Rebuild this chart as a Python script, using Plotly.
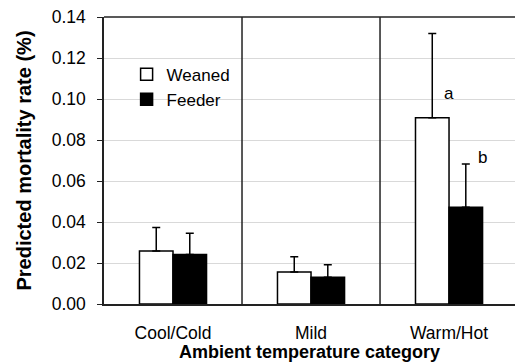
import plotly.graph_objects as go

categories = ["Cool/Cold", "Mild", "Warm/Hot"]
weaned = [0.0258, 0.0156, 0.0909]
weaned_err = [0.0115, 0.0075, 0.0411]
feeder = [0.0241, 0.0131, 0.0472]
feeder_err = [0.0104, 0.0061, 0.0211]
letters = ["a", "b"]
letter_y = [0.1025, 0.0717]

fig = go.Figure()
fig.add_trace(go.Bar(
    name="Weaned", x=categories, y=weaned,
    marker=dict(color="white", line=dict(color="black", width=1.5)),
    error_y=dict(type="data", array=weaned_err, arrayminus=[0, 0, 0],
                 color="black", thickness=1.5, width=4),
))
fig.add_trace(go.Bar(
    name="Feeder", x=categories, y=feeder,
    marker=dict(color="black", line=dict(color="black", width=1.5)),
    error_y=dict(type="data", array=feeder_err, arrayminus=[0, 0, 0],
                 color="black", thickness=1.5, width=4),
))

# category separators
for xv in [0.5, 1.5]:
    fig.add_shape(type="line", xref="x", yref="paper", x0=xv, x1=xv, y0=0, y1=1,
                  line=dict(color="#222222", width=1.5))
# top border
fig.add_shape(type="line", xref="paper", yref="paper", x0=0, x1=1, y0=1, y1=1,
              line=dict(color="#222222", width=1.5))

fig.add_annotation(x=2, y=letter_y[0], text=letters[0], xref="x", yref="y",
                   xshift=0, showarrow=False, font=dict(size=17, color="black"))
fig.add_annotation(x=2, y=letter_y[1], text=letters[1], xref="x", yref="y",
                   xshift=33, showarrow=False, font=dict(size=17, color="black"))

fig.update_layout(
    width=515, height=362,
    margin=dict(l=104, r=0, t=17, b=58),
    paper_bgcolor="white", plot_bgcolor="white",
    font=dict(family="Liberation Sans, Arial, sans-serif", size=17, color="black"),
    barmode="group", bargap=0.514, bargroupgap=0,
    showlegend=True,
    legend=dict(x=0.055, y=0.862, xanchor="left", yanchor="top",
                bgcolor="rgba(0,0,0,0)", font=dict(size=17),
                itemwidth=30, tracegroupgap=0),
    xaxis=dict(range=[-0.5, 2.478], showline=True, linecolor="#222222", linewidth=1.5,
               ticks="", showgrid=False, tickfont=dict(size=17.5),
               ticklabelstandoff=12,
               title=dict(text="<b>Ambient temperature category</b>", standoff=0,
                          font=dict(size=18))),
    yaxis=dict(range=[0, 0.14], dtick=0.02, tickformat=".2f",
               showline=True, linecolor="#222222", linewidth=1.5,
               ticks="outside", ticklen=5, tickcolor="#222222",
               tickfont=dict(size=17.5), ticklabelstandoff=8,
               showgrid=True, gridcolor="#d9d9d9", gridwidth=1,
               zeroline=False,
               title=dict(text="<b>Predicted mortality rate (%)</b>", standoff=15,
                          font=dict(size=20))),
)

fig.write_html("out.html")
